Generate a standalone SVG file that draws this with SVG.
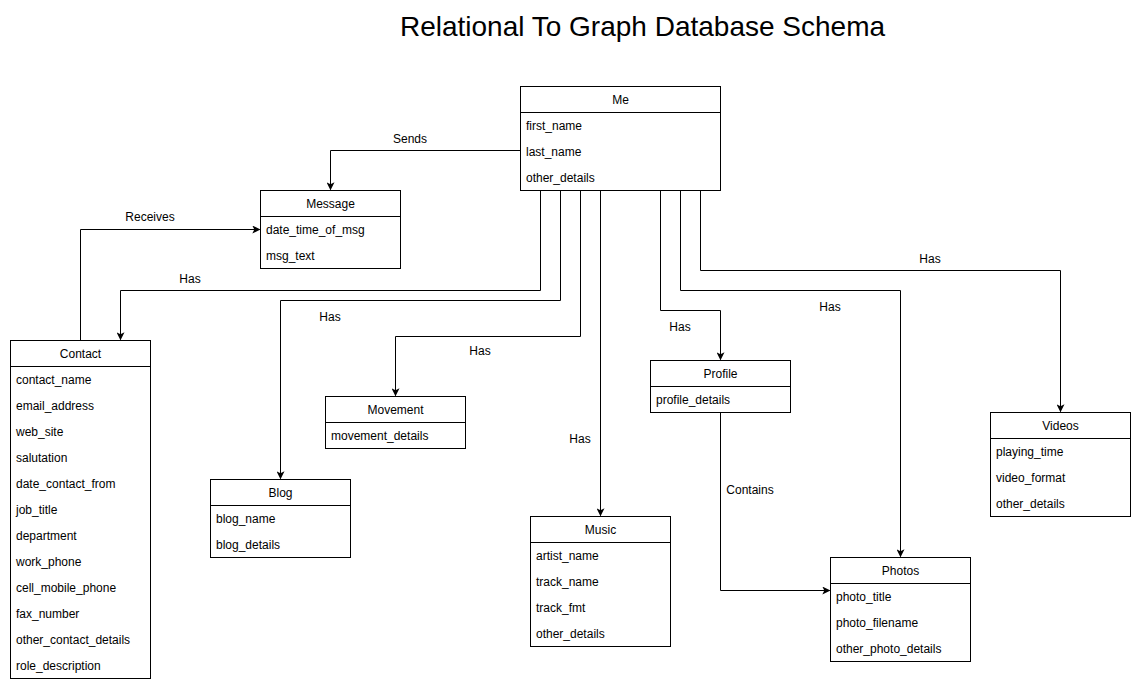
<svg xmlns="http://www.w3.org/2000/svg" width="1141" height="692" viewBox="0 0 1141 692">
<defs>
<marker id="arr" viewBox="0 0 10 10" refX="9" refY="5" markerWidth="8" markerHeight="8" markerUnits="userSpaceOnUse" orient="auto">
<path d="M0,0 L10,5 L0,10 L2.5,5 Z" fill="#000"/>
</marker>
<style>
.box{fill:#fff;stroke:#000;stroke-width:1}
.sep{stroke:#000;stroke-width:1}
text{font-family:"Liberation Sans",Arial,sans-serif;font-size:12px;fill:#000}
.h{text-anchor:middle}
.t{font-size:28px;text-anchor:middle}
.c{fill:none;stroke:#000;stroke-width:1;marker-end:url(#arr)}
.lbl{text-anchor:middle}
</style>
</defs>
<rect width="1141" height="692" fill="#fff"/>
<text class="t" x="642.5" y="36">Relational To Graph Database Schema</text>

<g id="connectors">
<path class="c" d="M520.5,150.5 H330.5 V189.5"/>
<text class="lbl" x="410" y="143">Sends</text>
<path class="c" d="M80.5,340.5 V229.5 H259.5"/>
<text class="lbl" x="150" y="221">Receives</text>
<path class="c" d="M540.5,190.5 V290.5 H120.5 V339.5"/>
<text class="lbl" x="190" y="283">Has</text>
<path class="c" d="M560.5,190.5 V300.5 H280.5 V478.5"/>
<text class="lbl" x="330" y="321">Has</text>
<path class="c" d="M580.5,190.5 V336.5 H395.5 V395.5"/>
<text class="lbl" x="480" y="355">Has</text>
<path class="c" d="M600.5,190.5 V515.5"/>
<text class="lbl" x="580" y="443">Has</text>
<path class="c" d="M660.5,190.5 V310.5 H720.5 V359.5"/>
<text class="lbl" x="680" y="331">Has</text>
<path class="c" d="M680.5,190.5 V290.5 H900.5 V556.5"/>
<text class="lbl" x="830" y="311">Has</text>
<path class="c" d="M700.5,190.5 V270.5 H1060.5 V411.5"/>
<text class="lbl" x="930" y="263">Has</text>
<path class="c" d="M720.5,412.5 V590.5 H829.5"/>
<text class="lbl" x="750" y="494">Contains</text>
</g>

<g id="me">
<rect class="box" x="520.5" y="86.5" width="200" height="104"/>
<line class="sep" x1="520.5" y1="112.5" x2="720.5" y2="112.5"/>
<text class="h" x="620.5" y="104">Me</text>
<text x="526" y="130">first_name</text>
<text x="526" y="156">last_name</text>
<text x="526" y="182">other_details</text>
</g>

<g id="message">
<rect class="box" x="260.5" y="190.5" width="140" height="78"/>
<line class="sep" x1="260.5" y1="216.5" x2="400.5" y2="216.5"/>
<text class="h" x="330.5" y="208">Message</text>
<text x="266" y="234">date_time_of_msg</text>
<text x="266" y="260">msg_text</text>
</g>

<g id="contact">
<rect class="box" x="10.5" y="340.5" width="140" height="338"/>
<line class="sep" x1="10.5" y1="366.5" x2="150.5" y2="366.5"/>
<text class="h" x="80.5" y="358">Contact</text>
<text x="16" y="384">contact_name</text>
<text x="16" y="410">email_address</text>
<text x="16" y="436">web_site</text>
<text x="16" y="462">salutation</text>
<text x="16" y="488">date_contact_from</text>
<text x="16" y="514">job_title</text>
<text x="16" y="540">department</text>
<text x="16" y="566">work_phone</text>
<text x="16" y="592">cell_mobile_phone</text>
<text x="16" y="618">fax_number</text>
<text x="16" y="644">other_contact_details</text>
<text x="16" y="670">role_description</text>
</g>

<g id="blog">
<rect class="box" x="210.5" y="479.5" width="140" height="78"/>
<line class="sep" x1="210.5" y1="505.5" x2="350.5" y2="505.5"/>
<text class="h" x="280.5" y="497">Blog</text>
<text x="216" y="523">blog_name</text>
<text x="216" y="549">blog_details</text>
</g>

<g id="movement">
<rect class="box" x="325.5" y="396.5" width="140" height="52"/>
<line class="sep" x1="325.5" y1="422.5" x2="465.5" y2="422.5"/>
<text class="h" x="395.5" y="414">Movement</text>
<text x="331" y="440">movement_details</text>
</g>

<g id="music">
<rect class="box" x="530.5" y="516.5" width="140" height="130"/>
<line class="sep" x1="530.5" y1="542.5" x2="670.5" y2="542.5"/>
<text class="h" x="600.5" y="534">Music</text>
<text x="536" y="560">artist_name</text>
<text x="536" y="586">track_name</text>
<text x="536" y="612">track_fmt</text>
<text x="536" y="638">other_details</text>
</g>

<g id="profile">
<rect class="box" x="650.5" y="360.5" width="140" height="52"/>
<line class="sep" x1="650.5" y1="386.5" x2="790.5" y2="386.5"/>
<text class="h" x="720.5" y="378">Profile</text>
<text x="656" y="404">profile_details</text>
</g>

<g id="photos">
<rect class="box" x="830.5" y="557.5" width="140" height="104"/>
<line class="sep" x1="830.5" y1="583.5" x2="970.5" y2="583.5"/>
<text class="h" x="900.5" y="575">Photos</text>
<text x="836" y="601">photo_title</text>
<text x="836" y="627">photo_filename</text>
<text x="836" y="653">other_photo_details</text>
</g>

<g id="videos">
<rect class="box" x="990.5" y="412.5" width="140" height="104"/>
<line class="sep" x1="990.5" y1="438.5" x2="1130.5" y2="438.5"/>
<text class="h" x="1060.5" y="430">Videos</text>
<text x="996" y="456">playing_time</text>
<text x="996" y="482">video_format</text>
<text x="996" y="508">other_details</text>
</g>
</svg>
